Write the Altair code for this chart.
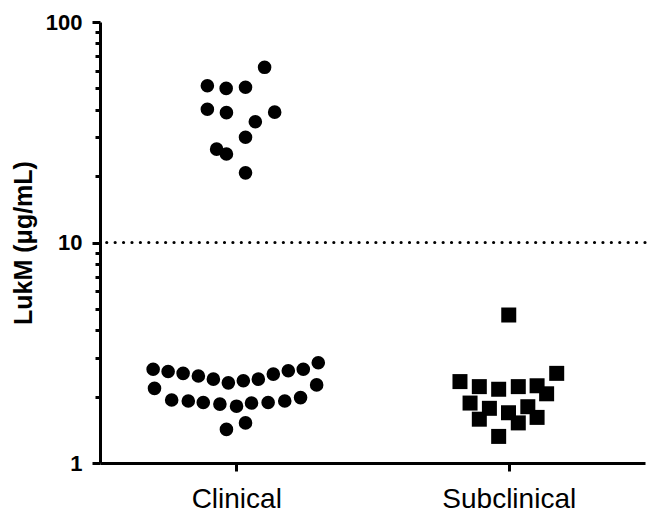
import altair as alt
import pandas as pd

# Category positions on the x axis (category units)
categories = ["Clinical", "Subclinical"]
cat_centers = [0.5, 1.5]

# Clinical measurements (µg/mL) and swarm offsets (category units)
clinical_values = [62.3, 51.4, 50.0, 50.6, 40.2, 38.8, 39.0, 35.3, 30.0, 26.5, 25.2, 20.7,
                   2.66, 2.60, 2.55, 2.48, 2.40, 2.31, 2.36, 2.40, 2.53, 2.62, 2.66, 2.85,
                   2.18, 1.93, 1.91, 1.88, 1.85, 1.81, 1.87, 1.88, 1.91, 1.98, 2.26,
                   1.42, 1.52]
clinical_offsets = [0.104, -0.106, -0.037, 0.034, -0.106, -0.036, 0.141, 0.070, 0.034, -0.072, -0.036, 0.034,
                    -0.305, -0.250, -0.195, -0.139, -0.084, -0.029, 0.026, 0.081, 0.136, 0.191, 0.246, 0.301,
                    -0.300, -0.237, -0.176, -0.121, -0.060, 0.001, 0.056, 0.117, 0.178, 0.236, 0.295,
                    -0.036, 0.034]

# Subclinical measurements (µg/mL) and swarm offsets
subclinical_values = [4.69, 2.34, 2.22, 2.16, 2.22, 2.24, 2.55, 2.06,
                      1.87, 1.77, 1.69, 1.80, 1.58, 1.52, 1.61, 1.32]
subclinical_offsets = [0.0, -0.179, -0.108, -0.037, 0.035, 0.104, 0.176, 0.139,
                       -0.142, -0.071, -0.001, 0.070, -0.108, 0.035, 0.104, -0.037]

threshold = 10
y_major = [1, 10, 100]
y_ticks = [1, 2, 3, 4, 5, 6, 7, 8, 9, 10, 20, 30, 40, 50, 60, 70, 80, 90, 100]

rows = []
for v, o in zip(clinical_values, clinical_offsets):
    rows.append({"group": categories[0], "value": v, "pos": cat_centers[0] + o})
for v, o in zip(subclinical_values, subclinical_offsets):
    rows.append({"group": categories[1], "value": v, "pos": cat_centers[1] + o})
df = pd.DataFrame(rows)

FONT = "Liberation Sans"

label_expr = "datum.value < 1 ? '%s' : '%s'" % (categories[0], categories[1])
major_test = " || ".join("datum.value == %d" % m for m in y_major)

points = alt.Chart(df).mark_point(filled=True, opacity=1, color="black").encode(
    x=alt.X("pos:Q",
            scale=alt.Scale(domain=[0, 2], nice=False, zero=False),
            axis=alt.Axis(values=cat_centers, labelExpr=label_expr, title=None, grid=False,
                          domainColor="black", domainWidth=3, tickColor="black",
                          tickWidth=3, tickSize=8, labelFont=FONT, labelFontSize=28,
                          labelColor="black", labelPadding=14)),
    y=alt.Y("value:Q",
            scale=alt.Scale(type="log", domain=[1, 100], nice=False),
            axis=alt.Axis(values=y_ticks,
                          labelExpr="(%s) ? datum.label : ''" % major_test,
                          labelOverlap=False,
                          title="LukM (μg/mL)", titleFont=FONT, titleFontSize=25,
                          titleFontWeight="bold", titleColor="black", titlePadding=9,
                          grid=False, domainColor="black", domainWidth=3,
                          tickColor="black", tickWidth=3,
                          tickSize={"condition": {"test": major_test, "value": 8}, "value": 5},
                          labelFont=FONT, labelFontSize=22, labelFontWeight="bold",
                          labelColor="black", labelPadding=10)),
    shape=alt.Shape("group:N", scale=alt.Scale(domain=categories, range=["circle", "square"]),
                    legend=None),
    size=alt.Size("group:N", scale=alt.Scale(domain=categories, range=[185, 225]), legend=None),
)

rule_df = pd.DataFrame({"t": [threshold]})
rule = alt.Chart(rule_df).mark_rule(color="black", strokeWidth=3.2, strokeDash=[0.01, 8.4],
                                    strokeCap="round").encode(y="t:Q")

chart = alt.layer(rule, points).properties(
    width=545, height=441,
    autosize=alt.AutoSizeParams(type="none"),
    padding={"left": 92, "top": 14, "right": 6, "bottom": 56},
).configure_view(stroke=None)

chart.save("out.html", embed_options={"renderer": "svg", "actions": False})
